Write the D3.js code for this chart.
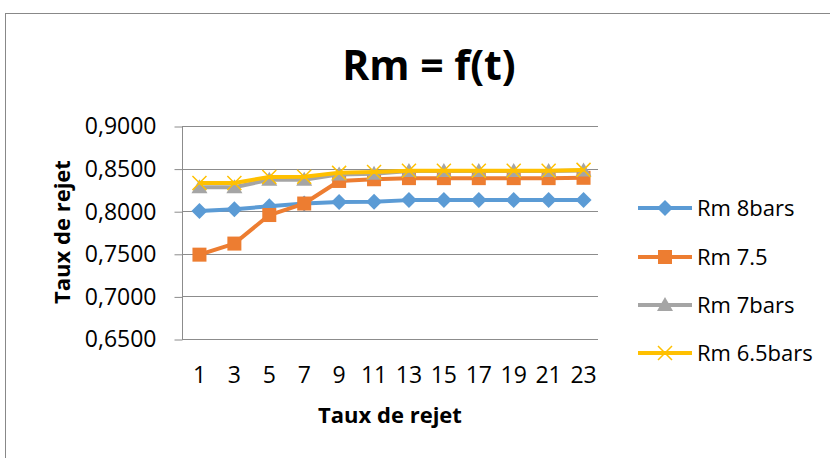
<!DOCTYPE html>
<html><head><meta charset="utf-8">
<script src="https://cdn.jsdelivr.net/npm/d3@7/dist/d3.min.js"></script>
<style>body{margin:0;background:#fff;} svg{display:block;}</style>
</head><body>
<svg id="c" width="830" height="458"></svg>
<script>
const categories = ["1","3","5","7","9","11","13","15","17","19","21","23"];
const rm8bars  = [0.8002,0.8023,0.8058,0.8090,0.8108,0.8110,0.8130,0.8130,0.8130,0.8130,0.8130,0.8132];
const rm75     = [0.7490,0.7620,0.7955,0.8090,0.8355,0.8375,0.8388,0.8388,0.8388,0.8388,0.8388,0.8392];
const rm7bars  = [0.8280,0.8282,0.8368,0.8370,0.8432,0.8440,0.8472,0.8472,0.8472,0.8472,0.8472,0.8478];
const rm65bars = [0.8330,0.8332,0.8402,0.8404,0.8450,0.8460,0.8475,0.8475,0.8475,0.8475,0.8475,0.8485];
const seriesNames = ["Rm 8bars","Rm 7.5","Rm 7bars","Rm 6.5bars"];
const yTicks = [0.65,0.70,0.75,0.80,0.85,0.90];
const titleText = "Rm = f(t)";
const xTitle = "Taux de rejet";
const yTitle = "Taux de rejet";

const colors = ["#5B9BD5","#ED7D31","#A5A5A5","#FFC000"];
const symbols = ["diamond","square","triangle","x"];
const seriesData = [rm8bars, rm75, rm7bars, rm65bars];

const svg = d3.select("#c");
const font = "'Open Sans', sans-serif";
// chart border
svg.append("rect").attr("x",5.5).attr("y",13.5).attr("width",840).attr("height",500)
  .attr("fill","#fff").attr("stroke","#888").attr("stroke-width",1);

const L=182, R=601, T=126, B=339;
const x = d3.scaleBand().domain(categories).range([L,R]);
const y = d3.scaleLinear().domain([0.65,0.90]).range([B,T]);

// title
svg.append("text").attr("x",429).attr("y",80).attr("text-anchor","middle")
  .attr("font-family",font).attr("font-weight","bold").attr("font-size",41).attr("fill","#000").text(titleText);

// gridlines
svg.append("g").selectAll("line").data(yTicks).join("line")
  .attr("x1",L).attr("x2",R-3).attr("y1",d=>Math.round(y(d))+0.5).attr("y2",d=>Math.round(y(d))+0.5)
  .attr("stroke","#8c8c8c").attr("stroke-width",1);

// y axis
const yAxis = d3.axisLeft(y).tickValues(yTicks).tickSize(8).tickPadding(18)
  .tickFormat(d=>d3.format(".4f")(d).replace(".",","));
const gy = svg.append("g").attr("transform",`translate(${L+0.5},0.5)`).call(yAxis);
gy.select(".domain").attr("stroke","#8c8c8c").attr("d",`M-0,${T}V${B}`);
gy.selectAll(".tick line").attr("stroke","#8c8c8c");
gy.selectAll("text").attr("font-family",font).attr("font-size",23).attr("fill","#000");

// x axis labels
const gx = svg.append("g").attr("transform",`translate(0,${B})`)
  .call(d3.axisBottom(x).tickSize(0).tickPadding(28));
gx.select(".domain").remove();
gx.selectAll("text").attr("font-family",font).attr("font-size",23).attr("fill","#000");

// axis titles
svg.append("text").attr("x",390).attr("y",423).attr("text-anchor","middle")
  .attr("font-family",font).attr("font-weight","bold").attr("font-size",22).text(xTitle);
svg.append("text").attr("transform","translate(70,232) rotate(-90)").attr("text-anchor","middle")
  .attr("font-family",font).attr("font-weight","bold").attr("font-size",22).text(yTitle);

const line = d3.line().x((d,i)=>x(categories[i])+x.bandwidth()/2).y(d=>y(d));

function drawMarker(g, type, color, cx, cy){
  if(type==="diamond"){
    g.append("path").attr("d",`M${cx},${cy-8}L${cx+8},${cy}L${cx},${cy+8}L${cx-8},${cy}Z`).attr("fill",color);
  } else if(type==="square"){
    g.append("rect").attr("x",cx-7).attr("y",cy-7).attr("width",14).attr("height",14).attr("fill",color);
  } else if(type==="triangle"){
    g.append("path").attr("d",`M${cx},${cy-8}L${cx+8},${cy+6}L${cx-8},${cy+6}Z`).attr("fill",color);
  } else {
    g.append("path").attr("d",`M${cx-7},${cy-7}L${cx+7},${cy+7}M${cx+7},${cy-7}L${cx-7},${cy+7}`)
      .attr("stroke",color).attr("stroke-width",1.5).attr("fill","none");
  }
}

seriesData.forEach((vals,si)=>{
  const g = svg.append("g");
  g.append("path").datum(vals).attr("d",line).attr("fill","none")
    .attr("stroke",colors[si]).attr("stroke-width",4).attr("stroke-linejoin","round");
  vals.forEach((v,i)=>drawMarker(g,symbols[si],colors[si],x(categories[i])+x.bandwidth()/2,y(v)));
});

// legend
const legY = [208,257,305,353];
seriesNames.forEach((n,si)=>{
  const g = svg.append("g");
  g.append("line").attr("x1",638).attr("x2",692).attr("y1",legY[si]).attr("y2",legY[si])
    .attr("stroke",colors[si]).attr("stroke-width",4);
  drawMarker(g,symbols[si],colors[si],665,legY[si]);
  g.append("text").attr("x",697).attr("y",legY[si]+8).attr("font-family",font).attr("font-size",22)
    .attr("fill","#000").text(n);
});
</script>
</body></html>
